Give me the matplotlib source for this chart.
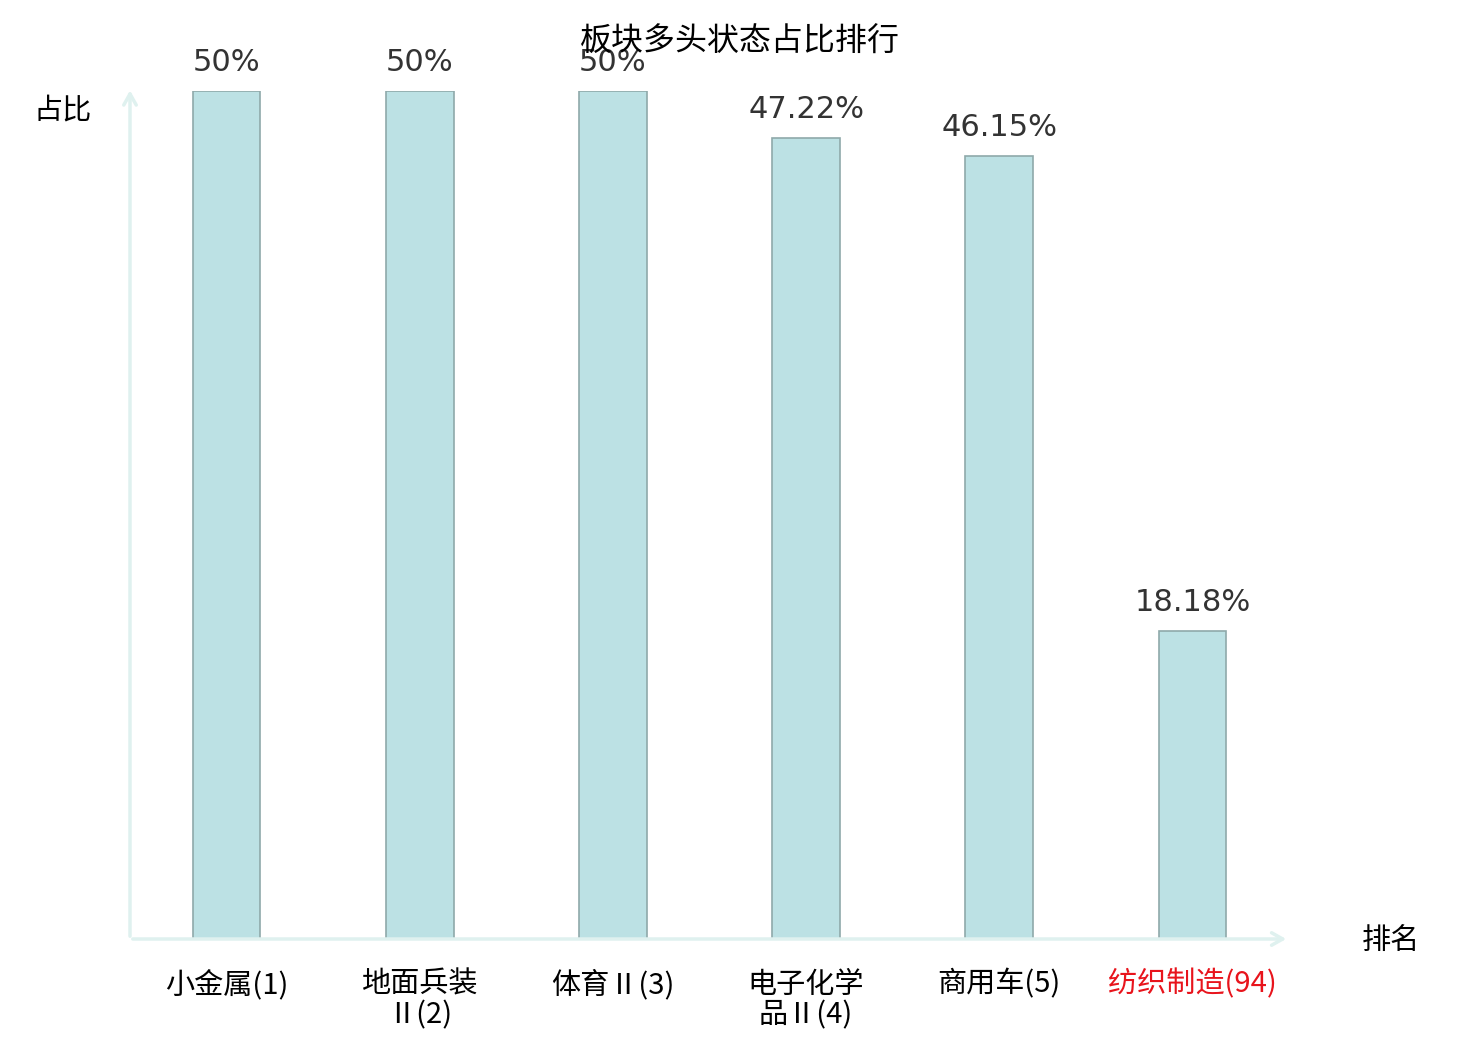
import matplotlib
matplotlib.use("Agg")
import matplotlib.pyplot as plt
import numpy as np

plt.rcParams['font.family'] = ['Noto Sans CJK SC', 'DejaVu Sans']

TITRE = "板块多头状态占比排行"
secteurs = ["小金属(1)", "地面兵装\nⅡ(2)", "体育Ⅱ(3)", "电子化学\n品Ⅱ(4)", "商用车(5)", "纺织制造(94)"]
ratios = [50, 50, 50, 47.22, 46.15, 18.18]
etiquettes = ["50%", "50%", "50%", "47.22%", "46.15%", "18.18%"]
couleurs_ticks = ["black", "black", "black", "black", "black", "#e8141c"]

fig = plt.figure(figsize=(14.8, 10.4), dpi=100)
ax = fig.add_axes([130/1480, 1-939/1040, (1289-130)/1480, (939-91)/1040])

x = np.arange(len(secteurs))
ax.bar(x, ratios, width=0.35, color="#bce1e4", edgecolor="#8fa9aa", linewidth=1.2)
for xi, v, lab in zip(x, ratios, etiquettes):
	ax.annotate(lab, (xi, v), xytext=(0, 10), textcoords="offset points",
				ha="center", va="bottom", fontsize=22, color="#333333",
				family="DejaVu Sans")

ax.set_xlim(-0.5, 5.5)
ax.set_ylim(0, 50)
for s in ax.spines.values():
	s.set_visible(False)
ax.set_yticks([])
ax.set_xticks(x)
ax.set_xticklabels(secteurs, fontsize=21, linespacing=1.05)
for t, c in zip(ax.get_xticklabels(), couleurs_ticks):
	t.set_color(c)
ax.tick_params(axis="x", length=0, pad=22)

# axes en fleches
col_axe = "#dff1ef"
ax.annotate("", xy=(1.0, 0), xytext=(0, 0), xycoords="axes fraction",
			arrowprops=dict(arrowstyle="->,head_length=0.8,head_width=0.45", color=col_axe, lw=2.5),
			annotation_clip=False)
ax.annotate("", xy=(0, 1.004), xytext=(0, 0), xycoords="axes fraction",
			arrowprops=dict(arrowstyle="->,head_length=0.8,head_width=0.45", color=col_axe, lw=2.5),
			annotation_clip=False)

fig.text(63/1480, 1-110/1040, "占比", ha="center", va="center", fontsize=21)
fig.text(1391/1480, 1-941/1040, "排名", ha="center", va="center", fontsize=21)
fig.text(0.5, 1-42/1040, TITRE, ha="center", va="center", fontsize=23)

fig.savefig("out.png", dpi=100)
